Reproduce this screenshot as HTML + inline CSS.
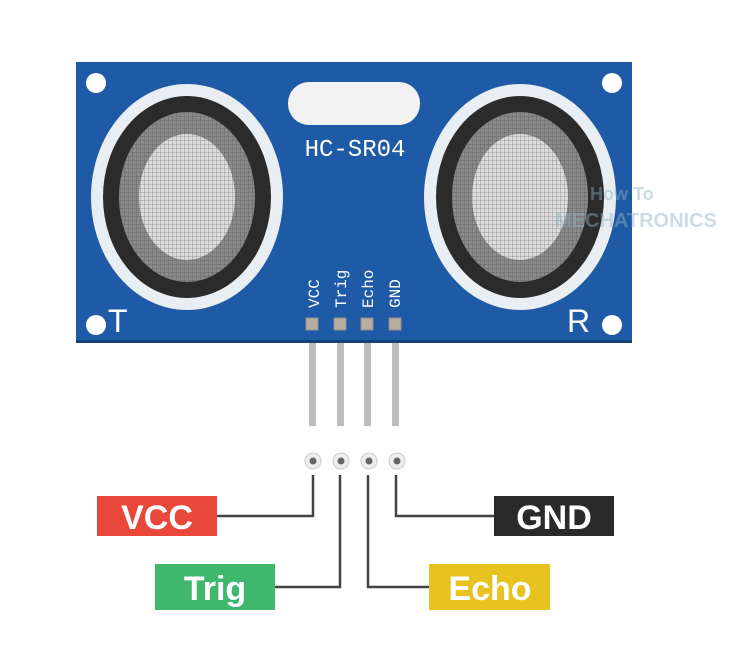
<!DOCTYPE html>
<html><head><meta charset="utf-8"><style>
html,body{margin:0;padding:0;background:#fff;width:754px;height:661px;overflow:hidden}
</style></head><body>
<svg width="754" height="661" viewBox="0 0 754 661" xmlns="http://www.w3.org/2000/svg">
<defs>
<pattern id="mesh" width="4" height="4" patternUnits="userSpaceOnUse">
<path d="M0 0H4M0 0V4" stroke="#333" stroke-width="0.8" opacity="0.5"/>
</pattern>
</defs>
<rect x="76" y="62" width="556" height="281" fill="#1f5aa6"/>
<rect x="76" y="340" width="556" height="3" fill="#173f7a"/>
<circle cx="96" cy="83" r="10" fill="#fff"/>
<circle cx="612" cy="83" r="10" fill="#fff"/>
<circle cx="96" cy="325" r="10" fill="#fff"/>
<circle cx="612" cy="325" r="10" fill="#fff"/>
<rect x="288" y="82" width="132" height="43" rx="21" fill="#f2f2f2"/>
<text x="355" y="156" font-family="Liberation Mono, monospace" font-size="24" fill="#fff" text-anchor="middle">HC-SR04</text>
<g>
<ellipse cx="187" cy="197" rx="96" ry="113" fill="#e9eef3"/>
<ellipse cx="187" cy="197" rx="84" ry="101" fill="#2b2b2b"/>
<ellipse cx="187" cy="197" rx="68" ry="85" fill="#8a8a8a"/>
<ellipse cx="187" cy="197" rx="48" ry="63" fill="#dcdcdc"/>
<ellipse cx="187" cy="197" rx="68" ry="85" fill="url(#mesh)"/>
</g>
<g>
<ellipse cx="520" cy="197" rx="96" ry="113" fill="#e9eef3"/>
<ellipse cx="520" cy="197" rx="84" ry="101" fill="#2b2b2b"/>
<ellipse cx="520" cy="197" rx="68" ry="85" fill="#8a8a8a"/>
<ellipse cx="520" cy="197" rx="48" ry="63" fill="#dcdcdc"/>
<ellipse cx="520" cy="197" rx="68" ry="85" fill="url(#mesh)"/>
</g>
<text x="108" y="332" font-family="Liberation Sans, sans-serif" font-size="32" fill="#fff">T</text>
<text x="567" y="332" font-family="Liberation Sans, sans-serif" font-size="32" fill="#fff">R</text>
<g font-family="Liberation Mono, monospace" font-size="16" fill="#fff">
<text transform="translate(319,308) rotate(-90)">VCC</text>
<text transform="translate(346,308) rotate(-90)">Trig</text>
<text transform="translate(373,308) rotate(-90)">Echo</text>
<text transform="translate(400,308) rotate(-90)">GND</text>
</g>
<g fill="#b9ada0" stroke="#8d8d8d" stroke-width="1">
<rect x="306" y="318" width="12" height="12"/>
<rect x="334" y="318" width="12" height="12"/>
<rect x="361" y="318" width="12" height="12"/>
<rect x="389" y="318" width="12" height="12"/>
</g>
<g fill="#bdbdbd">
<rect x="309" y="343" width="7" height="83"/>
<rect x="337" y="343" width="7" height="83"/>
<rect x="364" y="343" width="7" height="83"/>
<rect x="392" y="343" width="7" height="83"/>
</g>
<g fill="#eee" stroke="#ccc">
<circle cx="313" cy="461" r="8"/><circle cx="341" cy="461" r="8"/><circle cx="369" cy="461" r="8"/><circle cx="397" cy="461" r="8"/>
</g>
<g fill="#666">
<circle cx="313" cy="461" r="3.5"/><circle cx="341" cy="461" r="3.5"/><circle cx="369" cy="461" r="3.5"/><circle cx="397" cy="461" r="3.5"/>
</g>
<g fill="none" stroke="#444" stroke-width="2.5">
<path d="M313 475V516H217"/>
<path d="M340 475V587H275"/>
<path d="M368 475V587H430"/>
<path d="M396 475V516H494"/>
</g>
<g font-family="Liberation Sans, sans-serif" font-weight="bold" font-size="34" fill="#fff" text-anchor="middle">
<rect x="97" y="496" width="120" height="40" fill="#e8473a"/><text x="157" y="529">VCC</text>
<rect x="494" y="496" width="120" height="40" fill="#2a2a2a"/><text x="554" y="529">GND</text>
<rect x="155" y="564" width="120" height="46" fill="#3fb86d"/><text x="215" y="600">Trig</text>
<rect x="429" y="564" width="121" height="46" fill="#e8c21e"/><text x="490" y="600">Echo</text>
</g>
<text x="590" y="200" font-family="Liberation Sans, sans-serif" font-weight="bold" font-size="18" fill="#8fb3c6" opacity="0.45">How To</text>
<text x="555" y="227" font-family="Liberation Sans, sans-serif" font-weight="bold" font-size="20" fill="#8fb3c6" opacity="0.45">MECHATRONICS</text>
</svg>
</body></html>
